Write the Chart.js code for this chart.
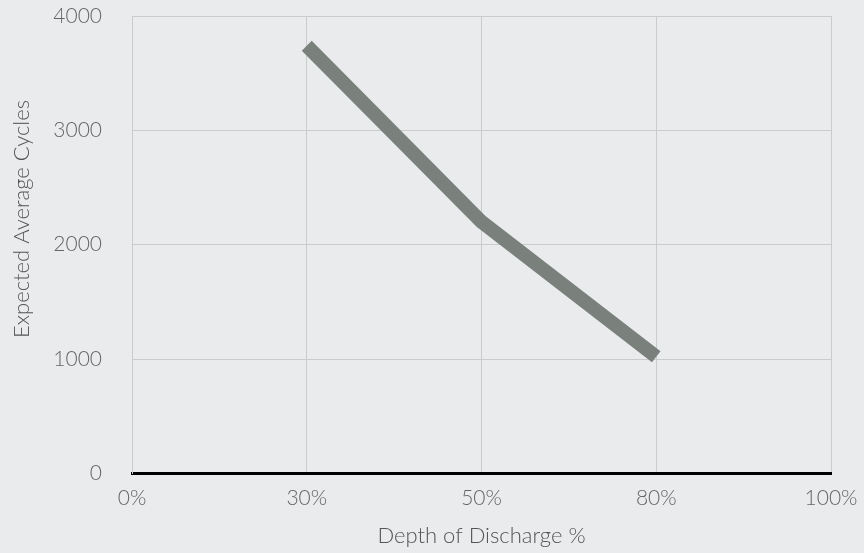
<!DOCTYPE html>
<html>
<head>
<meta charset="utf-8">
<script src="https://cdn.jsdelivr.net/npm/chart.js@4"></script>
<style>
  html, body { margin: 0; padding: 0; background: #e9ebec; }
  #wrap { position: relative; width: 864px; height: 553px; }
</style>
</head>
<body>
<div id="wrap"><canvas id="chart"></canvas></div>
<script>
const depthLabels = ["0%", "30%", "50%", "80%", "100%"];
const expectedCycles = [null, 3740, 2200, 1020, null];
const cycleTicks = [0, 1000, 2000, 3000, 4000];
const yTitle = "Expected Average Cycles";

const tickFont = { family: "Lato", weight: "300", size: 21 };
const titleFont = { family: "Lato", weight: "300", size: 22 };

const bgPlugin = {
  id: "bg",
  beforeDraw: (chart) => {
    const ctx = chart.ctx;
    ctx.save();
    ctx.fillStyle = "#e9ebec";
    ctx.fillRect(0, 0, chart.width, chart.height);
    ctx.restore();
  },
};

// y title sits a bit above the plot centre in the original, so draw it by hand
const yTitlePlugin = {
  id: "yTitle",
  afterDraw: (chart) => {
    const ctx = chart.ctx;
    ctx.save();
    ctx.translate(22, 219);
    ctx.rotate(-Math.PI / 2);
    ctx.font = "300 22px Lato";
    ctx.fillStyle = "#555";
    ctx.textAlign = "center";
    ctx.textBaseline = "middle";
    ctx.fillText(yTitle, 0, 0);
    ctx.restore();
  },
};

new Chart(document.getElementById("chart"), {
  type: "line",
  data: {
    labels: depthLabels,
    datasets: [
      {
        data: expectedCycles,
        borderColor: "#7a807c",
        borderWidth: 14,
        borderCapStyle: "butt",
        borderJoinStyle: "miter",
        pointRadius: 0,
        tension: 0,
        fill: false,
      },
    ],
  },
  options: {
    responsive: true,
    maintainAspectRatio: false,
    animation: false,
    layout: { padding: { left: 0, right: 33, top: 16, bottom: 0 } },
    plugins: { legend: { display: false }, tooltip: { enabled: false } },
    scales: {
      x: {
        offset: false,
        afterFit: (axis) => {
          axis.paddingLeft = 0;
          axis.paddingRight = 0;
        },
        grid: { color: "#cacccc", lineWidth: 1, drawTicks: false },
        border: { color: "#000", width: 3 },
        ticks: { color: "#666", font: tickFont, padding: 12, maxRotation: 0 },
        title: {
          display: true,
          text: "Depth of Discharge %",
          color: "#555",
          font: titleFont,
          padding: { top: 0, bottom: 4 },
        },
      },
      y: {
        min: 0,
        max: 4000,
        afterBuildTicks: (axis) => {
          axis.ticks = cycleTicks.map((v) => ({ value: v }));
        },
        afterFit: (axis) => {
          axis.width = 132;
          axis.paddingTop = 0;
          axis.paddingBottom = 0;
        },
        grid: { color: "#cacccc", lineWidth: 1, drawTicks: false },
        border: { color: "#cacccc", width: 1 },
        ticks: {
          color: "#666",
          font: tickFont,
          padding: 30,
          callback: (v) => String(v),
        },
        title: { display: false },
      },
    },
  },
  plugins: [bgPlugin, yTitlePlugin],
});
</script>
</body>
</html>
